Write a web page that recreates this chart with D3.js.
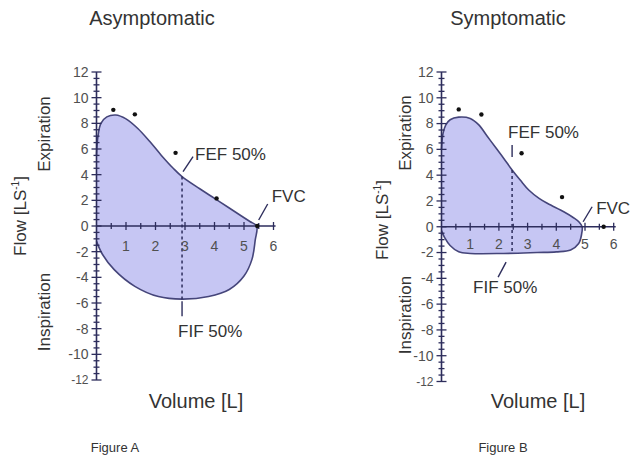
<!DOCTYPE html>
<html><head><meta charset="utf-8">
<script src="https://cdn.jsdelivr.net/npm/d3@7"></script>
<style>
html,body{margin:0;padding:0;background:#fff;}
svg{display:block;font-family:"Liberation Sans",Arial,Helvetica,sans-serif;}
</style></head>
<body>
<svg id="c" width="631" height="462"></svg>
<script>
// ---------- DATA ----------
const volumeTicks = [1, 2, 3, 4, 5, 6];
const flowTicks = [-12, -10, -8, -6, -4, -2, 0, 2, 4, 6, 8, 10, 12];

// Figure A (asymptomatic): [volume L, flow L/s]
const asymExpiration = [[0,5.5],[0.05,7.0],[0.15,8.0],[0.35,8.5],[0.65,8.65],[1.0,8.35],[1.4,7.6],[1.8,6.6],[2.2,5.5],[2.6,4.5],[2.9,3.85],[3.5,2.9],[4.0,2.15],[4.5,1.4],[4.9,0.8],[5.2,0.35],[5.43,0]];
const asymInspiration = [[5.43,0],[5.38,-1.1],[5.27,-2.6],[5.0,-3.9],[4.5,-4.95],[3.8,-5.5],[2.9,-5.7],[2.1,-5.5],[1.3,-4.7],[0.6,-3.4],[0.2,-2.2],[0,-1.2]];
const asymPredicted = [[0.57,9.05],[1.3,8.7],[2.68,5.7],[4.07,2.15],[5.45,0]];
const asymFEF50 = [2.9, 3.85];
const asymFIF50 = [2.9, -5.7];
const asymFVC = [5.43, 0];

// Figure B (symptomatic)
const sympExpiration = [[0,6.0],[0.05,7.2],[0.15,7.9],[0.3,8.3],[0.6,8.5],[1.0,8.4],[1.3,7.9],[1.6,7.0],[1.9,6.1],[2.17,5.3],[2.46,4.4],[2.75,3.6],[3.04,2.85],[3.4,2.2],[3.7,1.8],[4.26,1.16],[4.6,0.7],[4.8,0.35],[4.9,0]];
const sympInspiration = [[4.9,0],[4.88,-0.6],[4.78,-1.3],[4.5,-1.8],[4.0,-1.95],[3.33,-2.0],[2.17,-2.07],[1.0,-2.07],[0.6,-1.94],[0.3,-1.45],[0.1,-0.8],[0,-0.3]];
const sympPredicted = [[0.6,9.1],[1.39,8.7],[2.79,5.7],[4.2,2.3],[5.65,0]];
const sympFEF50 = [2.46, 4.4];
const sympFIF50 = [2.46, -2.05];
const sympFVC = [4.9, 0];

const panels = [
  {title:"Asymptomatic", fig:"Figure A", exp:asymExpiration, insp:asymInspiration, pred:asymPredicted,
   fef:asymFEF50, fif:asymFIF50, fvc:asymFVC,
   xr:[96.5, 273.5], yr:[380, 72], titleX:152, volX:196, figX:115, flowX:20, flowY:216, expX:44, expY:134, inspY:312,
   xLabOff:25, mode:"A"},
  {title:"Symptomatic", fig:"Figure B", exp:sympExpiration, insp:sympInspiration, pred:sympPredicted,
   fef:sympFEF50, fif:sympFIF50, fvc:sympFVC,
   xr:[441.5, 613.7], yr:[381.5, 72], titleX:508, volX:538, figX:503, flowX:382, flowY:220, expX:405, expY:133, inspY:315,
   xLabOff:22, mode:"B"}
];

const svg = d3.select("#c");
const axisCol = "#2d2d5c", curveCol = "#45457a", fillCol = "#c6c6f3", textCol = "#333", tickCol = "#505050";

panels.forEach(p => {
  const x = d3.scaleLinear().domain([0, 6]).range(p.xr);
  const y = d3.scaleLinear().domain([-12, 12]).range(p.yr);
  const g = svg.append("g");

  // loop fill
  const loop = p.exp.concat(p.insp.slice(1));
  const line = d3.line().x(d => x(d[0])).y(d => y(d[1])).curve(d3.curveCatmullRom.alpha(0.5));
  g.append("path").attr("d", line(loop) + "Z").attr("fill", fillCol).attr("stroke", "none");
  g.append("path").attr("d", line(loop)).attr("fill", "none").attr("stroke", curveCol).attr("stroke-width", 1.6);

  // dashed 50% line
  g.append("line").attr("x1", x(p.fef[0])).attr("x2", x(p.fif[0]))
    .attr("y1", y(p.fef[1])).attr("y2", y(p.fif[1]))
    .attr("stroke", axisCol).attr("stroke-width", 1.5).attr("stroke-dasharray", "3,3");

  // x axis
  g.append("line").attr("x1", x(0)).attr("x2", x(6.07)).attr("y1", y(0)).attr("y2", y(0))
    .attr("stroke", axisCol).attr("stroke-width", 1.6);
  d3.range(0.5, 6.01, 0.5).forEach(v => {
    const len = Number.isInteger(v) ? 4 : 3;
    g.append("line").attr("x1", x(v)).attr("x2", x(v)).attr("y1", y(0) - len).attr("y2", y(0) + len)
      .attr("stroke", axisCol).attr("stroke-width", 1.3);
  });
  g.selectAll(".xl").data(volumeTicks).enter().append("text")
    .attr("x", d => x(d)).attr("y", y(0) + p.xLabOff).attr("text-anchor", "middle")
    .attr("font-size", 14).attr("fill", tickCol).text(d => d);

  // y axis
  g.append("line").attr("x1", x(0)).attr("x2", x(0)).attr("y1", y(-12)).attr("y2", y(12))
    .attr("stroke", axisCol).attr("stroke-width", 1.6);
  d3.range(-12, 12.01, 0.5).forEach(v => {
    const major = (v % 2 === 0);
    const len = major ? 5 : 3;
    g.append("line").attr("x1", x(0) - len).attr("x2", x(0) + len).attr("y1", y(v)).attr("y2", y(v))
      .attr("stroke", axisCol).attr("stroke-width", 1.3);
  });
  g.selectAll(".yl").data(flowTicks).enter().append("text")
    .attr("x", x(0) - 8).attr("y", d => y(d)).attr("dy", "0.35em").attr("text-anchor", "end")
    .attr("font-size", d => Math.abs(d) === 12 && d < 0 ? 12 : 14).attr("fill", tickCol).text(d => d);

  // predicted dots
  g.selectAll(".dot").data(p.pred).enter().append("circle")
    .attr("cx", d => x(d[0])).attr("cy", d => y(d[1])).attr("r", 2.2).attr("fill", "#111");

  // annotations
  const ann = (x1, y1, x2, y2) => g.append("line").attr("x1", x1).attr("y1", y1).attr("x2", x2).attr("y2", y2)
    .attr("stroke", axisCol).attr("stroke-width", 1.4);
  const lab = (tx, ty, s) => g.append("text").attr("x", tx).attr("y", ty).attr("font-size", 17).attr("fill", textCol).text(s);
  const fx = x(p.fef[0]), fy = y(p.fef[1]), ix = x(p.fif[0]), iy = y(p.fif[1]);
  const vx = x(p.fvc[0]), vy = y(p.fvc[1]);
  if (p.mode === "A") {
    ann(fx + 1, fy - 5, fx + 11, fy - 20);
    lab(fx + 13, fy - 17, "FEF 50%");
    ann(ix, iy + 2, ix, iy + 17);
    lab(ix - 4, iy + 38, "FIF 50%");
    ann(vx + 2, vy - 6, vx + 11, vy - 22);
    lab(vx + 15, vy - 24, "FVC");
  } else {
    ann(fx, fy - 13, fx, fy - 25);
    lab(fx - 4, fy - 32, "FEF 50%");
    ann(ix - 6, iy + 9, ix - 14, iy + 24);
    lab(ix - 39, iy + 40, "FIF 50%");
    ann(vx + 1, vy - 5, vx + 10, vy - 20);
    lab(vx + 14, vy - 13, "FVC");
  }

  // titles
  svg.append("text").attr("x", p.titleX).attr("y", 25).attr("text-anchor", "middle")
    .attr("font-size", 20).attr("fill", textCol).text(p.title);
  svg.append("text").attr("x", p.volX).attr("y", 408).attr("text-anchor", "middle")
    .attr("font-size", 20).attr("fill", textCol).text("Volume [L]");
  svg.append("text").attr("x", p.figX).attr("y", 452).attr("text-anchor", "middle")
    .attr("font-size", 13).attr("fill", textCol).text(p.fig);

  const flow = svg.append("text").attr("transform", `translate(${p.flowX + 6},${p.flowY}) rotate(-90)`)
    .attr("text-anchor", "middle").attr("font-size", 17).attr("fill", textCol);
  flow.append("tspan").text("Flow [LS");
  flow.append("tspan").attr("font-size", 10).attr("dy", -7).text("-1");
  flow.append("tspan").attr("dy", 7).text("]");
  svg.append("text").attr("transform", `translate(${p.expX + 6},${p.expY}) rotate(-90)`)
    .attr("text-anchor", "middle").attr("font-size", 17).attr("fill", textCol).text("Expiration");
  svg.append("text").attr("transform", `translate(${p.expX + 6},${p.inspY}) rotate(-90)`)
    .attr("text-anchor", "middle").attr("font-size", 17).attr("fill", textCol).text("Inspiration");
});
</script>
</body></html>
